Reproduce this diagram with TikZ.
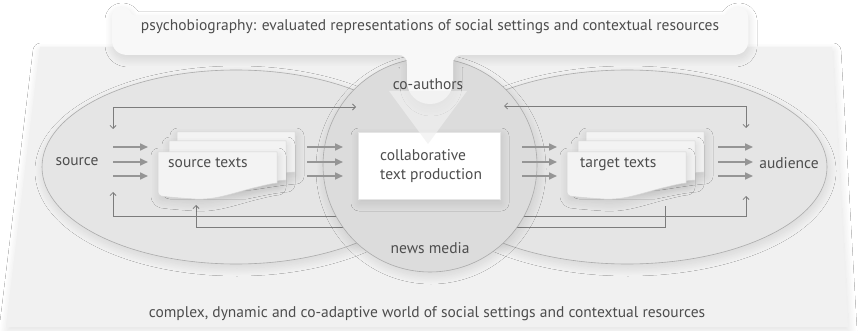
\documentclass[tikz,border=0pt]{standalone}
\usepackage{fontspec}
\setmainfont{PT Sans}
\usetikzlibrary{shadows.blur,arrows.meta}
\definecolor{txt}{HTML}{4D4D4D}
\definecolor{planec}{HTML}{F1F1F1}
\definecolor{bubc}{HTML}{F8F8F8}
\definecolor{ellc}{HTML}{E5E5E5}
\definecolor{circc}{HTML}{DCDCDC}
\definecolor{edgec}{HTML}{ABABAB}
\definecolor{pagec}{HTML}{F3F3F3}
\definecolor{arrc}{HTML}{959595}
\definecolor{fbc}{HTML}{7C7C7C}
\definecolor{tric}{HTML}{F0F0F0}
\tikzset{
  lbl/.style={text=txt, font=\fontsize{15.5}{19}\selectfont, inner sep=0pt},
  bigarrow/.style={draw=arrc, line width=1.6pt, -{Triangle[length=8pt,width=7pt]}},
  fb/.style={draw=fbc, line width=0.8pt},
  softshadow/.style={blur shadow={shadow xshift=1pt, shadow yshift=-4pt, shadow blur steps=20, shadow opacity=12, shadow blur radius=8pt}},
  pagestyle/.style={fill=pagec, draw=black!16, line width=0.5pt},
}
\begin{document}
\begin{tikzpicture}[x=1pt,y=-1pt]
\useasboundingbox (0,0) rectangle (858,331);
\fill[white] (0,0) rectangle (858,331);

% plane
\fill[planec, softshadow] (40,47) -- (832,47) -- (848,327) -- (6,327) -- cycle;

% ellipses
\draw[fill=ellc, draw=edgec, line width=0.6pt, softshadow] (627,167) ellipse [x radius=200pt, y radius=97pt];
\draw[fill=ellc, draw=edgec, line width=0.6pt, softshadow] (236,167) ellipse [x radius=194pt, y radius=97pt];

% lower feedback lines (under the circle)
\coordinate (fbA1) at (113,192);
\coordinate (fbA2) at (113,216);
\coordinate (fbA3) at (746,216);
\coordinate (fbA4) at (746,196);
\draw[fb, {Straight Barb[length=3pt,width=6pt]}-{Straight Barb[length=3pt,width=6pt]}] (fbA1) -- (fbA2) -- (fbA3) -- (fbA4);
\coordinate (fbB1) at (196,205);
\coordinate (fbB2) at (196,227);
\coordinate (fbB3) at (665,227);
\coordinate (fbB4) at (665,206);
\draw[fb, {Straight Barb[length=3pt,width=6pt]}-] (fbB1) -- (fbB2) -- (fbB3) -- (fbB4);

% circle
\draw[fill=circc, draw=edgec, line width=0.6pt, softshadow] (430,165) circle [radius=107pt];

% bubble
\path[fill=bubc, softshadow]
 (128,55) .. controls (118,55) and (112,49) .. (112,40)
 -- (112,16) .. controls (112,11) and (116,7) .. (121,7) .. controls (126,7) and (130,10) .. (131,13) .. controls (132,15) and (135,16) .. (140,16)
 -- (720,16) .. controls (725,16) and (727,15) .. (728,13) .. controls (729,10) and (733,7) .. (738,7) .. controls (743,7) and (748,11) .. (748,16)
 -- (748,42) .. controls (748,50) and (742,55) .. (733,55)
 -- (462,55) .. controls (456,55) and (453,58) .. (453,64)
 -- (453,81) .. controls (453,94) and (443,104) .. (430,104) .. controls (417,104) and (407,94) .. (407,81)
 -- (407,64) .. controls (407,58) and (404,55) .. (398,55) -- cycle;

% central box
\node[draw=black!10, fill=white, minimum width=142pt, minimum height=67pt, inner sep=0pt, softshadow] (ctp) at (429,165.5) {};
\fill[tric, fill opacity=0.7] (389,91) -- (467,91) -- (428,144) -- cycle;
\node[lbl, align=left, anchor=west] (ctptext) at (380,166) {collaborative\\text production};

% document stacks
\foreach \dx in {0, 409}{
\begin{scope}[xshift=\dx pt]
  \draw[pagestyle, softshadow] (177,132) -- (295,132) -- (295,172) .. controls (280,173) and (265,176) .. (250,178) -- (177,178) -- cycle;
  \draw[pagestyle, softshadow] (169,141) -- (286,141) -- (286,180) .. controls (272,181) and (260,184) .. (245,187) -- (169,187) -- cycle;
  \draw[pagestyle, softshadow] (158,152) -- (277,152) -- (277,183)
     .. controls (268,184) and (262,186) .. (253,188)
     .. controls (230,194) and (215,200) .. (195,199)
     .. controls (180,198) and (168,197) .. (161,196)
     .. controls (159,195) and (158,194) .. (158,192) -- cycle;
\end{scope}
}

% labels
\node[lbl] (psy) at (430,27) {psychobiography: evaluated representations of social settings and contextual resources};
\node[lbl] (coauth) at (428,84) {co-authors};
\node[lbl] (news) at (430,248) {news media};
\node[lbl] (world) at (427,314) {complex, dynamic and co-adaptive world of social settings and contextual resources};
\node[lbl] (source) at (77,162) {source};
\node[lbl] (audience) at (789,163) {audience};
\node[lbl, anchor=west] (srct) at (168,163) {source texts};
\node[lbl, anchor=west] (tgtt) at (580,164) {target texts};

% big arrows
\foreach \xa/\xb in {113/148, 307/343, 522/557, 718/753}{
  \foreach \yy in {147,162,176}{
    \draw[bigarrow] (\xa,\yy) -- (\xb,\yy);
  }
}

% upper feedback lines
\coordinate (fbC1) at (113,129);
\coordinate (fbC2) at (113,107);
\coordinate (fbC3) at (356,107);
\draw[fb, {Straight Barb[length=3pt,width=6pt]}-{Straight Barb[length=3pt,width=6pt]}] (fbC1) -- (fbC2) -- (fbC3);
\coordinate (fbD1) at (504,106);
\coordinate (fbD2) at (746,106);
\coordinate (fbD3) at (746,128);
\draw[fb, {Straight Barb[length=3pt,width=6pt]}-{Straight Barb[length=3pt,width=6pt]}] (fbD1) -- (fbD2) -- (fbD3);
\end{tikzpicture}
\end{document}
